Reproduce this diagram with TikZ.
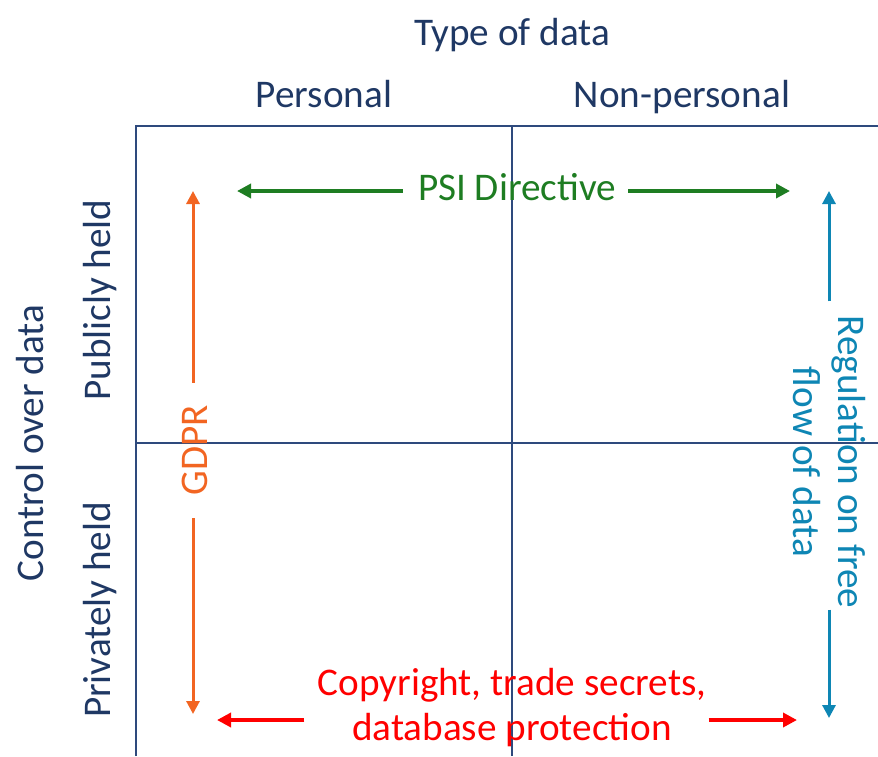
\documentclass[tikz,border=0pt]{standalone}
\usepackage{fontspec}
\setmainfont{Carlito}
\usetikzlibrary{arrows.meta}

\definecolor{navytext}{HTML}{1F3864}
\definecolor{gridline}{HTML}{2E4A7D}
\definecolor{psigreen}{HTML}{1E7D22}
\definecolor{gdprorange}{HTML}{F26522}
\definecolor{flowblue}{HTML}{0E86B4}
\definecolor{copyred}{HTML}{FF0000}

\tikzset{
  lbl/.style={inner sep=0pt, font=\fontsize{39.2}{45}\selectfont},
  axislbl/.style={lbl, text=navytext},
  thickarrow/.style={line width=4.2pt, -{Triangle[length=14pt,width=14pt]}},
  thinarrow/.style={line width=3pt, -{Triangle[length=13pt,width=13pt]}},
  gridrule/.style={draw=gridline, line width=1.8pt}
}

\begin{document}
\begin{tikzpicture}[x=1pt, y=-1pt]
  \useasboundingbox (0,0) rectangle (878,756);

  % quadrant grid
  \draw[gridrule] (136,756) -- (136,126) -- (878,126);
  \draw[gridrule] (512,126) -- (512,756);
  \draw[gridrule] (136,443) -- (878,443);

  % axis headings
  \node[axislbl, anchor=base] (typeofdata) at (512,45) {Type of data};
  \node[axislbl, anchor=base] (personal) at (324,107) {Personal};
  \node[axislbl, anchor=base] (nonpersonal) at (682,107) {Non-personal};
  \node[axislbl, anchor=base, rotate=90] (control) at (43,443) {Control over data};
  \node[axislbl, anchor=base, rotate=90] (publicly) at (110,300) {Publicly held};
  \node[axislbl, anchor=base, rotate=90] (privately) at (110,610) {Privately held};

  % PSI Directive (top row, both columns)
  \node[lbl, text=psigreen, anchor=base] (psi) at (517,200) {PSI Directive};
  \coordinate (psiL) at (237,191);
  \coordinate (psiR) at (790,191);
  \draw[thickarrow, psigreen, shorten <=15pt] (psi.west |- psiL) -- (psiL);
  \draw[thickarrow, psigreen, shorten <=12pt] (psi.east |- psiR) -- (psiR);

  % GDPR (personal column, both rows)
  \node[lbl, text=gdprorange, rotate=90] (gdpr) at (195,450) {GDPR};
  \coordinate (gdprU) at (193,191);
  \coordinate (gdprD) at (193,714);
  \draw[thinarrow, gdprorange, shorten <=22pt] (gdpr.east -| gdprU) -- (gdprU);
  \draw[thinarrow, gdprorange, shorten <=23pt] (gdpr.west -| gdprD) -- (gdprD);

  % Regulation on free flow of data (non-personal column, both rows)
  \node[lbl, text=flowblue, rotate=-90, align=center] (flow) at (829.5,462)
    {Regulation on free\\flow of data};
  \coordinate (flowU) at (829,191);
  \coordinate (flowD) at (829,718);
  \draw[thinarrow, flowblue, shorten <=14pt] (flow.west -| flowU) -- (flowU);
  \draw[thinarrow, flowblue, shorten <=1pt] (flow.east -| flowD) -- (flowD);

  % Copyright, trade secrets, database protection (bottom row, both columns)
  \node[lbl, text=copyred, align=center] (copy) at (512,708)
    {Copyright, trade secrets,\\database protection};
  \coordinate (copyL) at (217,720);
  \coordinate (copyR) at (797,720);
  \draw[thickarrow, copyred, shorten <=13pt] (copy.west |- copyL) -- (copyL);
  \draw[thickarrow, copyred, shorten <=2pt] (copy.east |- copyR) -- (copyR);
\end{tikzpicture}
\end{document}
